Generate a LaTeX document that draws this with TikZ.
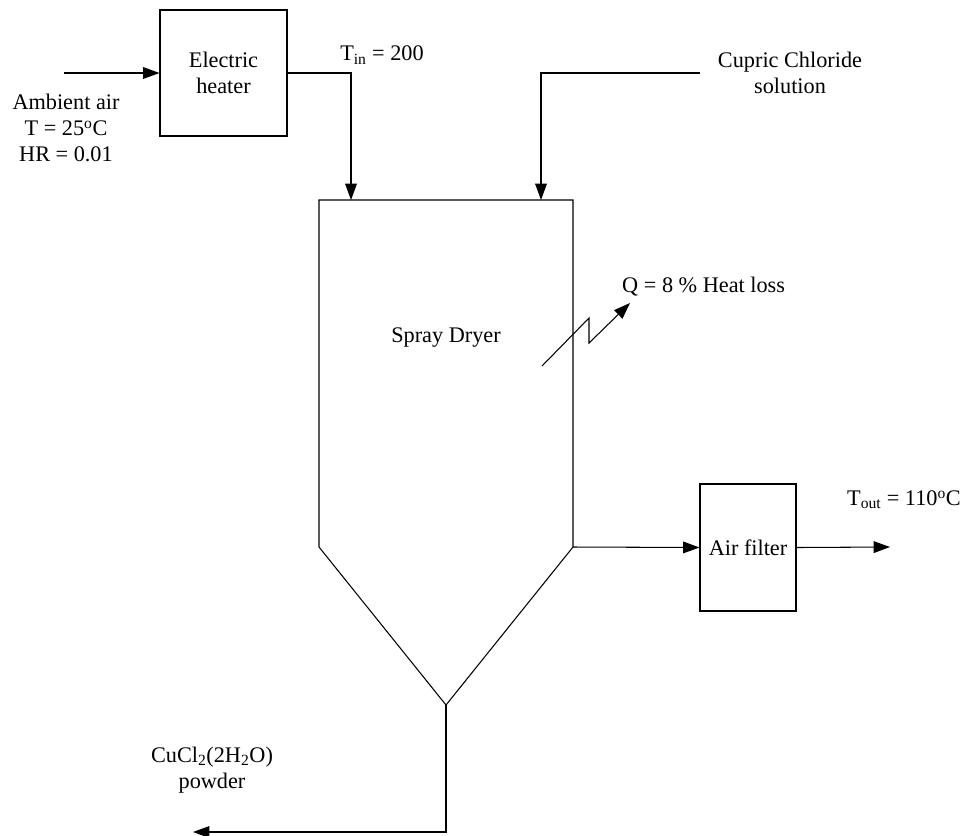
\documentclass[tikz,border=0pt]{standalone}
\usepackage{fontspec}
\setmainfont{Liberation Serif}
\usepackage{tikz}
\usetikzlibrary{positioning, arrows.meta}
\tikzset{
  unit/.style={draw, line width=0.9pt, inner sep=2pt, align=center},
  pipe/.style={line width=0.9pt},
  flow/.style={pipe, -{Triangle[length=14pt, width=10pt]}},
  tag/.style={align=center, inner sep=0pt},
}

\begin{document}
\begin{tikzpicture}[x=0.03cm, y=-0.03cm, font=\fontsize{19}{22}\selectfont]
  \useasboundingbox (0,0) rectangle (963,835);
  % units
  \node[unit, minimum width=3.81cm, minimum height=3.78cm] (heater) at (223.5,73) {Electric\\heater};
  \node[unit, minimum width=2.88cm, minimum height=3.81cm] (filter) at (748,547.5) {Air filter};
  \coordinate (dTL) at (319,200);
  \coordinate (dTR) at (573,200);
  \coordinate (dBL) at (319,547);
  \coordinate (dBR) at (573,547);
  \coordinate (apex) at (446,705);
  \draw[pipe] (dTL) -- (dTR) -- (dBR) -- (apex) -- (dBL) -- cycle;
  \node[tag] (dryer) at (446,338) {Spray Dryer};
  % stream ends
  \coordinate (airin) at (64,73);
  \coordinate (hotin) at (351,200);
  \coordinate (cupsrc) at (700,73);
  \coordinate (cupin) at (541,200);
  \coordinate (airout) at (890,547);
  \coordinate (powder) at (193,832);
  \draw[flow] (airin) -- (heater.west);
  \draw[flow] (heater.east) -| (hotin);
  \draw[flow] (cupsrc) -| (cupin);
  \draw[flow] (dBR) -- (filter.west);
  \draw[flow] (filter.east) -- (airout);
  \draw[flow] (apex) |- (powder);
  % heat loss
  \coordinate (qa) at (542,366);
  \coordinate (qb) at (589,318);
  \coordinate (qc) at (589,343);
  \coordinate (qd) at (630,303);
  \draw[flow] (qa) -- (qb) -- (qc) -- (qd);
  % labels
  \node[tag] (ambient) at (66,128) {Ambient air\\T = 25\textsuperscript{o}C\\HR = 0.01};
  \node[tag] (tin) at (382,55) {T\textsubscript{in} = 200};
  \node[tag] (cupric) at (790,72.5) {Cupric Chloride\\solution};
  \node[tag, anchor=west] (qloss) at (622,287) {Q = 8 \% Heat loss};
  \node[tag, anchor=east] (tout) at (961,500) {T\textsubscript{out} = 110\textsuperscript{o}C};
  \node[tag] (product) at (212,770) {CuCl\textsubscript{2}(2H\textsubscript{2}O)\\powder};
\end{tikzpicture}
\end{document}
